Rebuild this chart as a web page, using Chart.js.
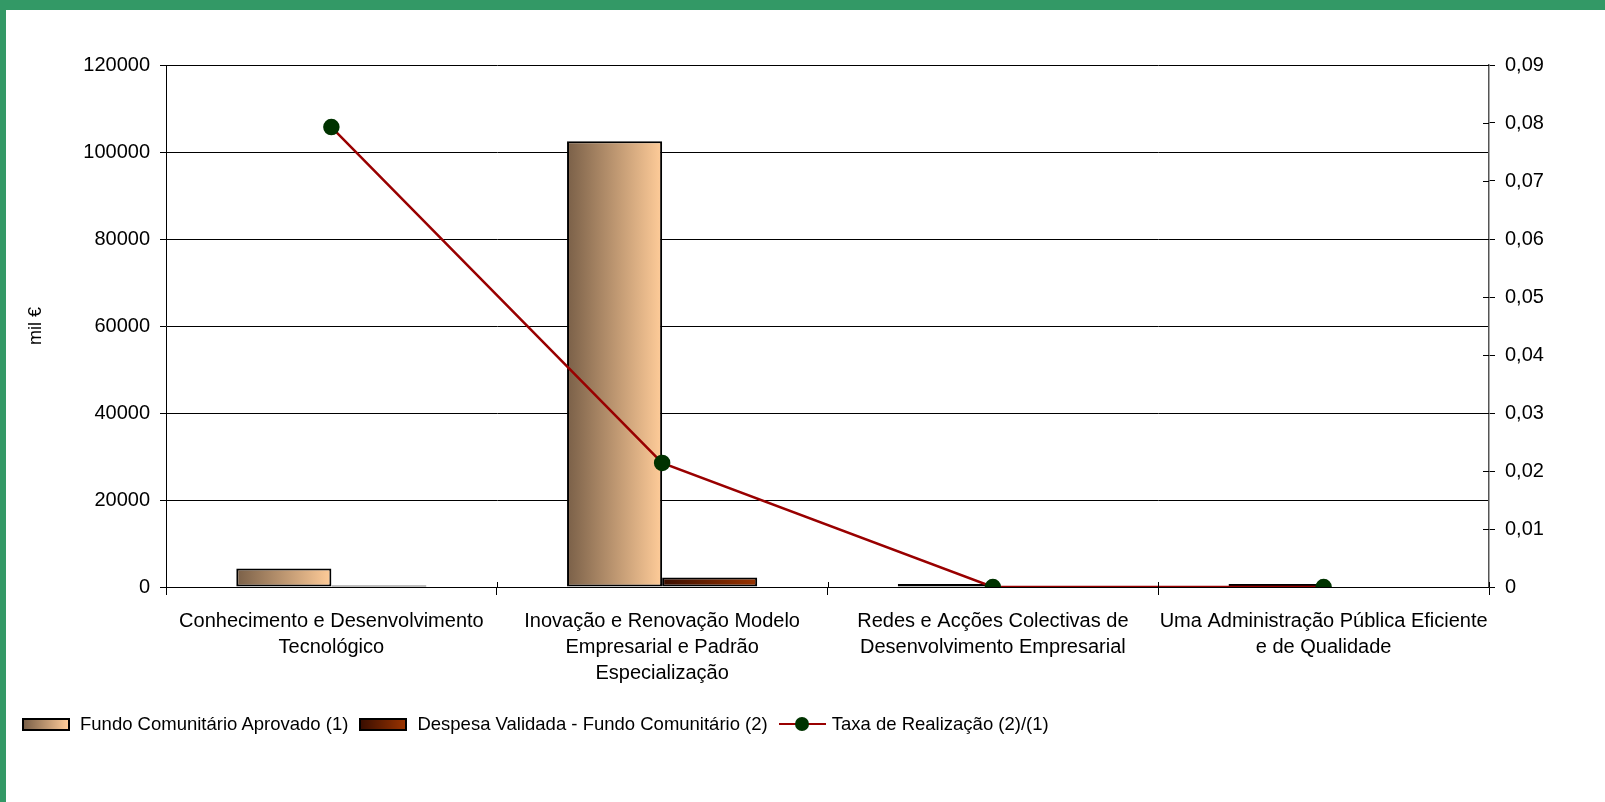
<!DOCTYPE html>
<html>
<head>
<meta charset="utf-8">
<script src="https://cdn.jsdelivr.net/npm/chart.js@4.4.1/dist/chart.umd.min.js"></script>
<style>
  html, body { margin: 0; padding: 0; background: #fff; }
  body { width: 1605px; height: 802px; position: relative; overflow: hidden; font-family: "Liberation Sans", Arial, sans-serif; }
  .frameTop { position: absolute; left: 0; top: 0; width: 1605px; height: 10px; background: #339966; }
  .frameLeft { position: absolute; left: 0; top: 0; width: 6px; height: 802px; background: #339966; }
  #wrap { position: absolute; left: 6px; top: 10px; width: 1599px; height: 792px; }
  #legend { position: absolute; left: 22px; top: 713px; display: flex; align-items: center; font-size: 18.5px; color: #000; white-space: nowrap; }
  .lg-box { width: 44px; height: 9px; border: 2px solid #000; margin-right: 10px; }
  .lg-text { margin-right: 11px; }
  .lg-line { position: relative; width: 47px; height: 20px; margin-right: 6px; }
  .lg-line::before { content: ""; position: absolute; left: 0; right: 0; top: 9px; height: 2px; background: #990000; }
  .lg-line::after { content: ""; position: absolute; left: 16px; top: 3px; width: 14px; height: 14px; border-radius: 50%; background: #003300; }
</style>
</head>
<body>
<div class="frameTop"></div>
<div class="frameLeft"></div>
<div id="wrap"><canvas id="chart" width="1599" height="792"></canvas></div>
<div id="legend">
  <div class="lg-box" style="background: linear-gradient(to right, #7a6048, #ffcc99);"></div>
  <span class="lg-text">Fundo Comunitário Aprovado (1)</span>
  <div class="lg-box" style="background: linear-gradient(to right, #3a0e00, #993300);"></div>
  <span class="lg-text">Despesa Validada - Fundo Comunitário (2)</span>
  <div class="lg-line"></div>
  <span>Taxa de Realização (2)/(1)</span>
</div>
<script>
const categories = [
  ["Conhecimento e Desenvolvimento", "Tecnológico"],
  ["Inovação e Renovação Modelo", "Empresarial e Padrão", "Especialização"],
  ["Redes e Acções Colectivas de", "Desenvolvimento Empresarial"],
  ["Uma Administração Pública Eficiente", "e de Qualidade"]
];
const fundoAprovado = [4250, 102500, 500, 450];
const despesaValidada = [334, 2200, 0, 0];
const taxaRealizacao = [0.0793, 0.0214, 0, 0];

const leftTicks = [0, 20000, 40000, 60000, 80000, 100000, 120000];
const rightTicks = [0, 0.01, 0.02, 0.03, 0.04, 0.05, 0.06, 0.07, 0.08, 0.09];

const CAT_PCT = 0.575;
const FONT = "'Liberation Sans', Arial, sans-serif";

// horizontal gradient per bar, worked out from the x scale
function barGradient(dark, light) {
  return function (ctx) {
    const chart = ctx.chart;
    const x = chart.scales.x;
    const y = chart.scales.y;
    if (!chart.chartArea || !x) return light;
    // very flat bars show up as just their black outline
    const h = Math.abs(y.getPixelForValue(ctx.raw) - y.getPixelForValue(0));
    if (h < 4) return "#000";
    const catW = x.width / categories.length;
    const groupW = catW * CAT_PCT;
    const barW = groupW / 2;
    const left = x.getPixelForValue(ctx.dataIndex) - groupW / 2 + ctx.datasetIndex * barW;
    const g = chart.ctx.createLinearGradient(left, 0, left + barW, 0);
    g.addColorStop(0, dark);
    g.addColorStop(1, light);
    return g;
  };
}

// small tick marks on the inside of the axes
const innerTicks = {
  id: "innerTicks",
  afterDatasetsDraw(chart) {
    const c = chart.ctx;
    const area = chart.chartArea;
    const x = chart.scales.x;
    const y1 = chart.scales.y1;
    c.save();
    c.strokeStyle = "#000";
    c.lineWidth = 1;
    c.beginPath();
    for (let i = 0; i <= categories.length; i++) {
      const px = Math.round(area.left + i * x.width / categories.length) + 0.5;
      c.moveTo(px, area.bottom - 5);
      c.lineTo(px, area.bottom);
    }
    rightTicks.forEach(v => {
      const py = Math.round(y1.getPixelForValue(v)) + 0.5;
      c.moveTo(area.right - 6, py);
      c.lineTo(area.right, py);
    });
    c.stroke();
    c.restore();
  }
};

const chart = new Chart(document.getElementById("chart"), {
  type: "bar",
  data: {
    labels: categories,
    datasets: [
      {
        label: "Fundo Comunitário Aprovado (1)",
        data: fundoAprovado,
        backgroundColor: barGradient("#7a6048", "#ffcc99"),
        borderColor: "#000",
        borderWidth: 2,
        borderSkipped: false,
        minBarLength: 3,
        categoryPercentage: CAT_PCT,
        barPercentage: 1,
        yAxisID: "y",
        order: 2
      },
      {
        label: "Despesa Validada - Fundo Comunitário (2)",
        data: despesaValidada,
        backgroundColor: barGradient("#3a0e00", "#993300"),
        borderColor: "#000",
        borderWidth: 2,
        borderSkipped: false,
        categoryPercentage: CAT_PCT,
        barPercentage: 1,
        yAxisID: "y",
        order: 2
      },
      {
        type: "line",
        label: "Taxa de Realização (2)/(1)",
        data: taxaRealizacao,
        borderColor: "#990000",
        borderWidth: 2.5,
        pointBackgroundColor: "#003300",
        pointBorderColor: "#003300",
        pointRadius: 7,
        tension: 0,
        yAxisID: "y1",
        order: 0
      }
    ]
  },
  options: {
    responsive: false,
    animation: false,
    layout: { padding: { top: 55, bottom: 95, left: 0, right: 0 } },
    plugins: {
      legend: { display: false },
      tooltip: { enabled: false }
    },
    scales: {
      x: {
        afterFit: s => { s.height = 120; },
        grid: { offset: true, drawOnChartArea: false, color: "#000", tickLength: 8 },
        border: { color: "#000", width: 1 },
        ticks: {
          autoSkip: false, maxRotation: 0, padding: 13, color: "#000",
          font: { family: FONT, size: 20, lineHeight: 1.3 }
        }
      },
      y: {
        position: "left",
        min: 0, max: 120000,
        afterFit: s => { s.width = 160; },
        afterBuildTicks: s => { s.ticks = leftTicks.map(v => ({ value: v })); },
        grid: { color: "#000", tickLength: 6 },
        border: { color: "#000", width: 1 },
        ticks: {
          padding: 10, color: "#000", font: { family: FONT, size: 20 },
          callback: v => String(v)
        },
        title: {
          display: true, text: "mil €", color: "#000",
          font: { family: FONT, size: 18 }, padding: { top: 19, bottom: 0 }
        }
      },
      y1: {
        position: "right",
        min: 0, max: 0.09,
        afterFit: s => { s.width = 116; },
        afterBuildTicks: s => { s.ticks = rightTicks.map(v => ({ value: v })); },
        grid: { drawOnChartArea: false, color: "#000", tickLength: 6 },
        border: { color: "#555", width: 1.5 },
        ticks: {
          padding: 10, color: "#000", font: { family: FONT, size: 20 },
          callback: v => v === 0 ? "0" : v.toFixed(2).replace(".", ",")
        }
      }
    }
  },
  plugins: [innerTicks]
});
</script>
</body>
</html>
